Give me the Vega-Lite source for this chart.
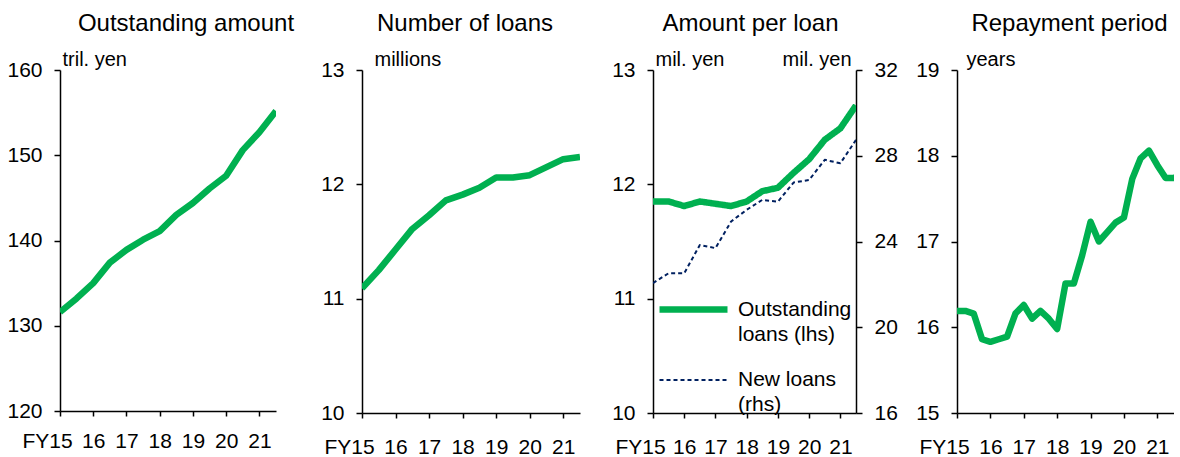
{
  "$schema": "https://vega.github.io/schema/vega-lite/v6.json",
  "padding": {"left": 6, "top": 12, "right": 0, "bottom": 0},
  "background": "white",
  "datasets": {
    "amount": [
      {"t": 15.0, "v": 131.6}, {"t": 15.5, "v": 133.2}, {"t": 16.0, "v": 135.0}, {"t": 16.5, "v": 137.4},
      {"t": 17.0, "v": 138.9}, {"t": 17.5, "v": 140.1}, {"t": 18.0, "v": 141.1}, {"t": 18.5, "v": 143.0},
      {"t": 19.0, "v": 144.4}, {"t": 19.5, "v": 146.1}, {"t": 20.0, "v": 147.6}, {"t": 20.5, "v": 150.6},
      {"t": 21.0, "v": 152.7}, {"t": 21.5, "v": 155.2}
    ],
    "number": [
      {"t": 15.0, "v": 11.09}, {"t": 15.5, "v": 11.25}, {"t": 16.0, "v": 11.43}, {"t": 16.5, "v": 11.61},
      {"t": 17.0, "v": 11.73}, {"t": 17.5, "v": 11.86}, {"t": 18.0, "v": 11.91}, {"t": 18.5, "v": 11.97},
      {"t": 19.0, "v": 12.06}, {"t": 19.5, "v": 12.06}, {"t": 20.0, "v": 12.08}, {"t": 20.5, "v": 12.15},
      {"t": 21.0, "v": 12.22}, {"t": 21.5, "v": 12.24}
    ],
    "perloan": [
      {"t": 15.0, "s": "Outstanding loans (lhs)", "v": 11.85}, {"t": 15.5, "s": "Outstanding loans (lhs)", "v": 11.85},
      {"t": 16.0, "s": "Outstanding loans (lhs)", "v": 11.81}, {"t": 16.5, "s": "Outstanding loans (lhs)", "v": 11.85},
      {"t": 17.0, "s": "Outstanding loans (lhs)", "v": 11.83}, {"t": 17.5, "s": "Outstanding loans (lhs)", "v": 11.81},
      {"t": 18.0, "s": "Outstanding loans (lhs)", "v": 11.85}, {"t": 18.5, "s": "Outstanding loans (lhs)", "v": 11.94},
      {"t": 19.0, "s": "Outstanding loans (lhs)", "v": 11.97}, {"t": 19.5, "s": "Outstanding loans (lhs)", "v": 12.10},
      {"t": 20.0, "s": "Outstanding loans (lhs)", "v": 12.22}, {"t": 20.5, "s": "Outstanding loans (lhs)", "v": 12.39},
      {"t": 21.0, "s": "Outstanding loans (lhs)", "v": 12.49}, {"t": 21.5, "s": "Outstanding loans (lhs)", "v": 12.69},
      {"t": 15.0, "s": "New loans (rhs)", "v": 22.06}, {"t": 15.5, "s": "New loans (rhs)", "v": 22.52},
      {"t": 16.0, "s": "New loans (rhs)", "v": 22.52}, {"t": 16.5, "s": "New loans (rhs)", "v": 23.84},
      {"t": 17.0, "s": "New loans (rhs)", "v": 23.69}, {"t": 17.5, "s": "New loans (rhs)", "v": 24.93},
      {"t": 18.0, "s": "New loans (rhs)", "v": 25.48}, {"t": 18.5, "s": "New loans (rhs)", "v": 25.94},
      {"t": 19.0, "s": "New loans (rhs)", "v": 25.86}, {"t": 19.5, "s": "New loans (rhs)", "v": 26.75},
      {"t": 20.0, "s": "New loans (rhs)", "v": 26.87}, {"t": 20.5, "s": "New loans (rhs)", "v": 27.81},
      {"t": 21.0, "s": "New loans (rhs)", "v": 27.65}, {"t": 21.5, "s": "New loans (rhs)", "v": 28.74}
    ],
    "period": [
      {"t": 15.0, "v": 16.19}, {"t": 15.25, "v": 16.19}, {"t": 15.5, "v": 16.16}, {"t": 15.75, "v": 15.86},
      {"t": 16.0, "v": 15.83}, {"t": 16.25, "v": 15.86}, {"t": 16.5, "v": 15.89}, {"t": 16.75, "v": 16.16},
      {"t": 17.0, "v": 16.26}, {"t": 17.25, "v": 16.10}, {"t": 17.5, "v": 16.19}, {"t": 17.75, "v": 16.10},
      {"t": 18.0, "v": 15.98}, {"t": 18.25, "v": 16.51}, {"t": 18.5, "v": 16.51}, {"t": 18.75, "v": 16.84},
      {"t": 19.0, "v": 17.23}, {"t": 19.25, "v": 17.00}, {"t": 19.5, "v": 17.11}, {"t": 19.75, "v": 17.22},
      {"t": 20.0, "v": 17.28}, {"t": 20.25, "v": 17.73}, {"t": 20.5, "v": 17.97}, {"t": 20.75, "v": 18.06},
      {"t": 21.0, "v": 17.89}, {"t": 21.25, "v": 17.74}, {"t": 21.5, "v": 17.74}, {"t": 21.75, "v": 17.80}
    ]
  },
  "hconcat": [
    {
      "width": 216,
      "height": 341,
      "title": {"text": "Outstanding amount", "dx": 18},
      "data": {"name": "amount"},
      "mark": {"type": "line", "color": "#00B050", "strokeWidth": 6.5, "strokeJoin": "round", "clip": true},
      "encoding": {
        "x": {
          "field": "t", "type": "quantitative",
          "scale": {"domain": [15, 21.5], "nice": false, "zero": false},
          "axis": {"values": [15, 16, 17, 18, 19, 20, 21], "title": null, "labelPadding": 14,
                   "labelExpr": "datum.value == 15 ? 'FY15' : datum.label",
                   "labelOffset": {"condition": {"test": "datum.value == 15", "value": -13}, "value": 0}}
        },
        "y": {
          "field": "v", "type": "quantitative",
          "scale": {"domain": [120, 160], "nice": false, "zero": false},
          "axis": {"values": [120, 130, 140, 150, 160], "title": "tril. yen", "titleX": 2, "titleY": -5}
        }
      }
    },
    {"width": 86, "height": 10, "data": {"values": []}, "mark": {"type": "point", "opacity": 0}},
    {
      "width": 218,
      "height": 343,
      "title": {"text": "Number of loans", "dx": -6},
      "data": {"name": "number"},
      "mark": {"type": "line", "color": "#00B050", "strokeWidth": 6.5, "strokeJoin": "round", "clip": true},
      "encoding": {
        "x": {
          "field": "t", "type": "quantitative",
          "scale": {"domain": [15, 21.5], "nice": false, "zero": false},
          "axis": {"values": [15, 16, 17, 18, 19, 20, 21], "title": null,
                   "labelExpr": "datum.value == 15 ? 'FY15' : datum.label",
                   "labelOffset": {"condition": {"test": "datum.value == 15", "value": -13}, "value": 0}}
        },
        "y": {
          "field": "v", "type": "quantitative",
          "scale": {"domain": [10, 13], "nice": false, "zero": false},
          "axis": {"values": [10, 11, 12, 13], "title": "millions", "titleX": 12, "titleY": -5}
        }
      }
    },
    {"width": 73, "height": 10, "data": {"values": []}, "mark": {"type": "point", "opacity": 0}},
    {
      "width": 203,
      "height": 343,
      "title": {"text": "Amount per loan", "dx": -4},
      "data": {"name": "perloan"},
      "encoding": {
        "x": {
          "field": "t", "type": "quantitative",
          "scale": {"domain": [15, 21.5], "nice": false, "zero": false},
          "axis": {"values": [15, 16, 17, 18, 19, 20, 21], "title": null,
                   "labelExpr": "datum.value == 15 ? 'FY15' : datum.label",
                   "labelOffset": {"condition": {"test": "datum.value == 15", "value": -13}, "value": 0}}
        },
        "color": {
          "field": "s", "type": "nominal",
          "scale": {"domain": ["Outstanding loans (lhs)", "New loans (rhs)"], "range": ["#00B050", "#002060"]},
          "legend": {
            "orient": "none", "legendX": 3, "legendY": 202, "title": null, "padding": 0,
            "symbolType": "stroke", "symbolSize": 4624, "labelFontSize": 21, "labelFont": "Liberation Sans",
            "labelColor": "black", "labelLimit": 0, "labelOffset": 7, "rowPadding": 0,
            "labelExpr": "datum.label == 'Outstanding loans (lhs)' ? ['Outstanding', 'loans (lhs)'] : ['New loans', '(rhs)']",
            "encode": {"labels": {"update": {"lineHeight": {"value": 25}}}}
          }
        },
        "strokeDash": {
          "field": "s", "type": "nominal",
          "scale": {"domain": ["Outstanding loans (lhs)", "New loans (rhs)"], "range": [[1, 0], [4, 3]]},
          "legend": {
            "orient": "none", "legendX": 3, "legendY": 202, "title": null, "padding": 0,
            "symbolType": "stroke", "symbolSize": 4624, "labelFontSize": 21, "labelFont": "Liberation Sans",
            "labelColor": "black", "labelLimit": 0, "labelOffset": 7, "rowPadding": 0,
            "labelExpr": "datum.label == 'Outstanding loans (lhs)' ? ['Outstanding', 'loans (lhs)'] : ['New loans', '(rhs)']",
            "encode": {"labels": {"update": {"lineHeight": {"value": 25}}}}
          }
        },
        "strokeWidth": {
          "field": "s", "type": "nominal",
          "scale": {"domain": ["Outstanding loans (lhs)", "New loans (rhs)"], "range": [6.5, 2]},
          "legend": {
            "orient": "none", "legendX": 3, "legendY": 202, "title": null, "padding": 0,
            "symbolType": "stroke", "symbolSize": 4624, "labelFontSize": 21, "labelFont": "Liberation Sans",
            "labelColor": "black", "labelLimit": 0, "labelOffset": 7, "rowPadding": 0,
            "labelExpr": "datum.label == 'Outstanding loans (lhs)' ? ['Outstanding', 'loans (lhs)'] : ['New loans', '(rhs)']",
            "encode": {"labels": {"update": {"lineHeight": {"value": 25}}}}
          }
        }
      },
      "layer": [
        {
          "transform": [{"filter": "datum.s == 'Outstanding loans (lhs)'"}],
          "mark": {"type": "line", "strokeJoin": "round", "clip": true},
          "encoding": {
            "y": {
              "field": "v", "type": "quantitative",
              "scale": {"domain": [10, 13], "nice": false, "zero": false},
              "axis": {"values": [10, 11, 12, 13], "title": "mil. yen", "titleX": 2, "titleY": -5}
            }
          }
        },
        {
          "transform": [{"filter": "datum.s == 'New loans (rhs)'"}],
          "mark": {"type": "line", "strokeJoin": "round", "clip": true},
          "encoding": {
            "y": {
              "field": "v", "type": "quantitative",
              "scale": {"domain": [16, 32], "nice": false, "zero": false},
              "axis": {"orient": "right", "values": [16, 20, 24, 28, 32], "title": "mil. yen",
                       "titleAlign": "right", "titleX": -5, "titleY": -5}
            }
          }
        }
      ],
      "resolve": {"scale": {"y": "independent"}}
    },
    {"width": 101, "height": 10, "data": {"values": []}, "mark": {"type": "point", "opacity": 0}},
    {
      "width": 217,
      "height": 343,
      "title": {"text": "Repayment period", "dx": 4},
      "data": {"name": "period"},
      "mark": {"type": "line", "color": "#00B050", "strokeWidth": 6.5, "strokeJoin": "round", "clip": true},
      "encoding": {
        "x": {
          "field": "t", "type": "quantitative",
          "scale": {"domain": [15, 21.5], "nice": false, "zero": false},
          "axis": {"values": [15, 16, 17, 18, 19, 20, 21], "title": null,
                   "labelExpr": "datum.value == 15 ? 'FY15' : datum.label",
                   "labelOffset": {"condition": {"test": "datum.value == 15", "value": -13}, "value": 0}}
        },
        "y": {
          "field": "v", "type": "quantitative",
          "scale": {"domain": [15, 19], "nice": false, "zero": false},
          "axis": {"values": [15, 16, 17, 18, 19], "title": "years", "titleX": 9, "titleY": -5}
        }
      }
    }
  ],
  "spacing": 0,
  "bounds": "flush",
  "resolve": {
    "scale": {"color": "independent", "strokeDash": "independent", "strokeWidth": "independent"},
    "legend": {"color": "independent", "strokeDash": "independent", "strokeWidth": "independent"}
  },
  "config": {
    "view": {"stroke": null},
    "font": "Liberation Sans",
    "axis": {
      "grid": false, "domainColor": "black", "domainWidth": 1.5, "tickColor": "black", "tickWidth": 1.5,
      "tickSize": 6, "labelColor": "black", "labelFont": "Liberation Sans", "labelFontSize": 21,
      "labelPadding": 12, "labelOverlap": false, "labelFlush": false,
      "titleFont": "Liberation Sans", "titleFontSize": 20, "titleFontWeight": "normal", "titleColor": "black",
      "titleAngle": 0, "titleAlign": "left", "titleBaseline": "alphabetic"
    },
    "axisX": {"tickSize": 5, "labelPadding": 18},
    "title": {"font": "Liberation Sans", "fontSize": 24, "fontWeight": "normal", "color": "black",
              "anchor": "middle", "frame": "group", "baseline": "alphabetic", "offset": 13}
  }
}
